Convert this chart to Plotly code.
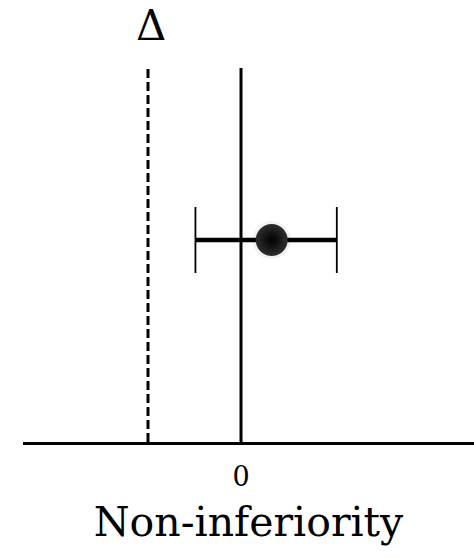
import plotly.graph_objects as go

# Effect estimate with its confidence interval, relative to the margin
margin_label = ["Δ"]
margin_value = [-1.0]
reference_value = [0.0]
estimate = [0.33]
ci_low = [-0.49]
ci_high = [1.03]
row_position = [0.54]
tick_values = [0]
tick_labels = ["0"]
x_title = "Non-inferiority"

SERIF = "DejaVu Serif, Liberation Serif, serif"

fig = go.Figure()

# confidence-interval bar (thick) drawn from the interval limits
fig.add_trace(go.Scatter(
    x=[ci_low[0], ci_high[0]],
    y=[row_position[0], row_position[0]],
    mode="lines",
    line=dict(color="black", width=4.5),
    hoverinfo="skip",
    showlegend=False,
))

# thin end caps through error bars
fig.add_trace(go.Scatter(
    x=estimate,
    y=row_position,
    mode="markers",
    marker=dict(size=1, color="rgba(0,0,0,0)"),
    error_x=dict(
        type="data",
        symmetric=False,
        array=[ci_high[0] - estimate[0]],
        arrayminus=[estimate[0] - ci_low[0]],
        color="black",
        thickness=1.8,
        width=33,
    ),
    hoverinfo="skip",
    showlegend=False,
))

# soft shadow under the point
fig.add_trace(go.Scatter(
    x=estimate,
    y=row_position,
    mode="markers",
    marker=dict(size=38, color="rgba(0,0,0,0.05)", line=dict(width=0)),
    hoverinfo="skip",
    showlegend=False,
))

# point estimate
fig.add_trace(go.Scatter(
    x=estimate,
    y=row_position,
    mode="markers",
    marker=dict(
        size=32,
        color="#2e2e2e",
        gradient=dict(type="radial", color="#000000"),
        line=dict(width=0),
    ),
    showlegend=False,
))

# reference line at zero and dashed non-inferiority margin
fig.add_shape(type="line", xref="x", yref="paper",
              x0=reference_value[0], x1=reference_value[0], y0=0, y1=1,
              line=dict(color="black", width=3))
fig.add_shape(type="line", xref="x", yref="paper",
              x0=margin_value[0], x1=margin_value[0], y0=0, y1=1,
              line=dict(color="black", width=3, dash="9px,4px"))

fig.add_annotation(
    x=margin_value[0], y=1, xref="x", yref="paper",
    text=margin_label[0], showarrow=False,
    xanchor="center", yanchor="middle", xshift=3, yshift=43,
    font=dict(family=SERIF, size=42, color="black"),
)

fig.update_layout(
    width=474, height=558,
    margin=dict(l=23, r=0, t=68, b=116),
    paper_bgcolor="white",
    plot_bgcolor="white",
    showlegend=False,
    xaxis=dict(
        range=[-2.344, 2.505],
        showgrid=False, zeroline=False,
        showline=True, linecolor="black", linewidth=3,
        tickvals=tick_values, ticktext=tick_labels,
        ticks="", ticklabelstandoff=9,
        tickfont=dict(family=SERIF, size=27, color="black"),
        title=dict(text=x_title, standoff=16,
                   font=dict(family=SERIF, size=41, color="black")),
        fixedrange=True,
    ),
    yaxis=dict(
        range=[0, 1],
        visible=False,
        fixedrange=True,
    ),
)

fig.write_html("out.html")
